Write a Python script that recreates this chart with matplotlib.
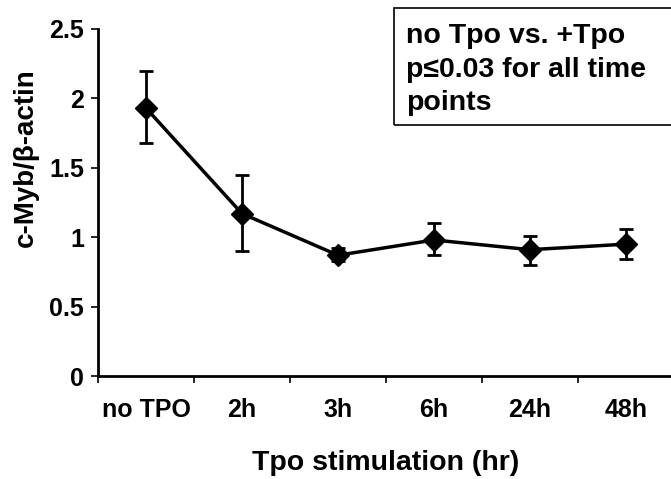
import numpy as np
import matplotlib
matplotlib.use("Agg")
from matplotlib import pyplot as plt
from matplotlib.patches import Rectangle

plt.rcParams['font.family'] = ['Liberation Sans', 'DejaVu Sans']
plt.rcParams['font.weight'] = 'bold'

labels = ['no TPO', '2h', '3h', '6h', '24h', '48h']
ratio = [1.93, 1.17, 0.87, 0.98, 0.91, 0.95]
err_up = [0.27, 0.28, 0.05, 0.12, 0.10, 0.11]
err_dn = [0.25, 0.27, 0.04, 0.11, 0.11, 0.11]

fig = plt.figure(figsize=(6.71, 4.79), dpi=100)
ax = fig.add_axes([98/671, 103/479, 576/671, 347/479])

x = np.arange(len(labels))
ax.errorbar(x, ratio, yerr=[err_dn, err_up], color='black', lw=2.5,
            marker='D', ms=11, elinewidth=2, capsize=5, capthick=2)

ax.set_xlim(-0.5, 5.5)
ax.set_ylim(0, 2.5)
ax.set_yticks([0, 0.5, 1, 1.5, 2, 2.5])
ax.set_yticklabels(['0', '0.5', '1', '1.5', '2', '2.5'], fontsize=18, fontweight='bold')
ax.set_xticks(np.arange(-0.5, 6, 1))
ax.set_xticklabels([])
ax.set_xticks(x, minor=True)
ax.set_xticklabels(labels, minor=True, fontsize=18, fontweight='bold')
ax.tick_params(axis='x', which='minor', length=0, pad=16)
ax.tick_params(axis='x', which='major', length=5, width=1.2, direction='out')
ax.tick_params(axis='y', length=5, width=1.2, direction='out', pad=5)

for s in ['top', 'right']:
    ax.spines[s].set_visible(False)
ax.spines['left'].set_linewidth(2)
ax.spines['bottom'].set_linewidth(2)

ax.set_ylabel('c-Myb/β-actin', fontsize=20, fontweight='bold')
ax.yaxis.set_label_coords(-0.102, 0.628)
ax.set_xlabel('Tpo stimulation (hr)', fontsize=20.5, fontweight='bold', labelpad=20)

fig.patches.append(Rectangle((394/671, 1 - 125/479), 290/671, 117/479,
                             transform=fig.transFigure, fill=False,
                             edgecolor='black', lw=1.2))
fig.text(406/671, 1 - 23/479, 'no Tpo vs. +Tpo\np≤0.03 for all time\npoints',
         fontsize=20.5, fontweight='bold', va='top', ha='left', linespacing=1.38)

plt.savefig('out.png', dpi=100)
